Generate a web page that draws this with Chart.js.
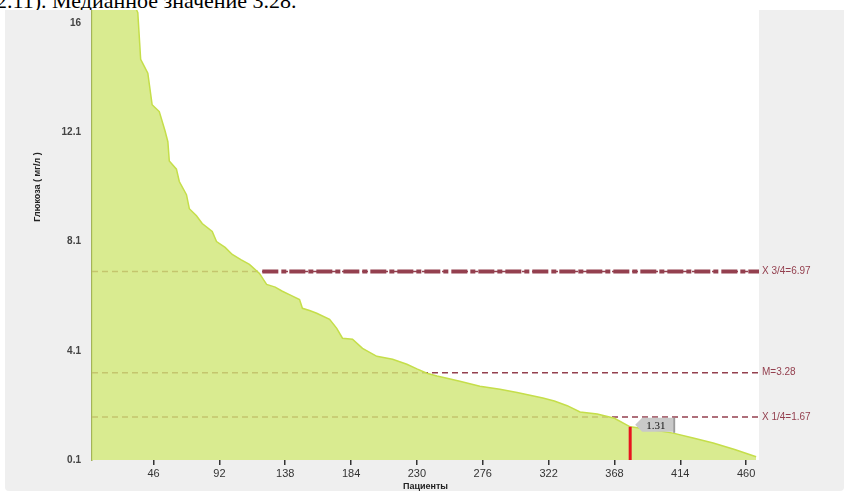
<!DOCTYPE html>
<html>
<head>
<meta charset="utf-8">
<script src="https://cdn.jsdelivr.net/npm/chart.js@4/dist/chart.umd.min.js"></script>
<style>
  html, body { margin: 0; padding: 0; background: #fff; width: 844px; height: 491px; overflow: hidden; }
  #doc { position: absolute; left: -4px; top: -11px; font: 22px/24px "Liberation Serif", serif; color: #000; white-space: nowrap; }
  #frame { position: absolute; left: 5px; top: 10px; width: 839px; height: 481px; background: #efefef; overflow: hidden; border-radius: 0 0 4px 4px; }
  #chart { position: absolute; left: 0; top: -113px; }
</style>
</head>
<body>
<div id="doc">2.11). Медианное значение 3.28.</div>
<div id="frame"><canvas id="chart" width="839" height="595"></canvas></div>
<script>
// sorted values (patient number -> level)
const patientNo = [1, 8, 16, 24, 30, 35, 37, 39, 42, 45, 47, 50, 54, 56, 57, 62, 64, 69, 71, 76,
  80, 87, 90, 96, 101, 107, 113, 120, 125, 131, 136, 142, 148, 150, 155, 160, 169, 174, 178, 185,
  192, 202, 213, 223, 230, 237, 244, 251, 260, 274, 288, 300, 309, 318, 326, 335, 344, 356, 368, 379,
  392, 409, 423, 437, 452, 467];
const levels = [19.8, 19.2, 18.4, 17.6, 17.0, 16.4, 14.7, 14.5, 14.2, 13.05, 12.95, 12.8, 12.1, 11.7, 11.0, 10.7, 10.25, 9.77, 9.26, 9.0,
  8.72, 8.43, 8.06, 7.85, 7.59, 7.4, 7.23, 6.9, 6.5, 6.4, 6.25, 6.1, 5.95, 5.63, 5.55, 5.45, 5.23, 4.9, 4.54, 4.5,
  4.17, 3.88, 3.77, 3.59, 3.42, 3.26, 3.16, 3.08, 2.97, 2.79, 2.68, 2.56, 2.46, 2.36, 2.25, 2.08, 1.85, 1.78, 1.62, 1.31,
  1.22, 1.08, 0.9, 0.72, 0.48, 0.22];

// quartile lines
const quartLabels = ['X 3/4=6.97', 'M=3.28', 'X 1/4=1.67'];
const quartValues = [6.97, 3.28, 1.67];
const q3Start = 122; // where the heavy Q3 line leaves the curve

// highlighted patient
const markNo = 379;
const markValue = 1.31;

const xTicks = [46, 92, 138, 184, 230, 276, 322, 368, 414, 460];
const yTicks = [0.1, 4.08, 8.06, 12.04, 16.02];
const yTickLabels = ['0.1', '4.1', '8.1', '12.1', '16'];
const xMin = 3, xMax = 469, yMin = 0.1, yMax = 20;

const maroon = '#94404f';

const areaData = patientNo.map((n, i) => ({ x: n, y: levels[i] }));

const datasets = [{
  data: areaData,
  fill: 'start',
  backgroundColor: 'rgba(208,230,116,0.8)',
  borderColor: '#c5de4a',
  borderWidth: 1.5,
  pointRadius: 0,
  tension: 0,
  order: 2
}];

quartValues.forEach(q => {
  datasets.push({
    data: [{ x: xMin, y: q }, { x: xMax, y: q }],
    borderColor: maroon,
    borderWidth: 1.5,
    borderDash: [6, 4],
    pointRadius: 0,
    fill: false,
    order: 3
  });
});

datasets.push({
  data: [{ x: q3Start, y: quartValues[0] }, { x: xMax, y: quartValues[0] }],
  borderColor: maroon,
  borderWidth: 4,
  borderDash: [16, 3, 5, 3],
  pointRadius: 0,
  fill: false,
  order: 3
});

datasets.push({
  data: [{ x: markNo, y: yMin }, { x: markNo, y: markValue }],
  borderColor: '#e8141e',
  borderWidth: 3,
  pointRadius: 0,
  fill: false,
  order: 1
});

const extras = {
  id: 'extras',
  beforeDraw(chart) {
    const { ctx, chartArea: a } = chart;
    ctx.save();
    ctx.fillStyle = '#fff';
    ctx.fillRect(a.left, a.top, a.right - a.left, a.bottom - a.top);
    ctx.restore();
  },
  afterDatasetsDraw(chart) {
    const { ctx, chartArea: a, scales } = chart;
    ctx.save();
    ctx.font = '10px "Liberation Sans", sans-serif';
    ctx.fillStyle = maroon;
    ctx.textBaseline = 'middle';
    quartValues.forEach((q, i) => {
      ctx.fillText(quartLabels[i], a.right + 3, scales.y.getPixelForValue(q));
    });
    // callout for the marked patient
    const px = scales.x.getPixelForValue(markNo) + 5;
    const py = scales.y.getPixelForValue(markValue) - 2;
    ctx.fillStyle = '#c9c9c9';
    ctx.beginPath();
    ctx.moveTo(px, py);
    ctx.lineTo(px + 7, py - 7);
    ctx.lineTo(px + 38, py - 7);
    ctx.lineTo(px + 38, py + 7);
    ctx.lineTo(px + 7, py + 7);
    ctx.closePath();
    ctx.fill();
    ctx.fillStyle = '#9a9a9a';
    ctx.fillRect(px + 38, py - 7, 2, 15);
    ctx.fillStyle = '#111';
    ctx.font = '11px "Liberation Serif", serif';
    ctx.fillText(String(markValue), px + 11, py + 1);
    ctx.restore();
  }
};

new Chart(document.getElementById('chart'), {
  type: 'line',
  data: { datasets },
  options: {
    responsive: false,
    animation: false,
    layout: { padding: { left: 0, right: 85, top: 0, bottom: 0 } },
    plugins: { legend: { display: false }, tooltip: { enabled: false } },
    scales: {
      x: {
        type: 'linear',
        min: xMin,
        max: xMax,
        afterBuildTicks: s => { s.ticks = xTicks.map(v => ({ value: v })); },
        afterFit: s => { s.height = 32; },
        grid: { display: true, drawOnChartArea: false, drawTicks: true, tickLength: 5, color: '#333', lineWidth: 1.5 },
        border: { display: false },
        ticks: { color: '#333', padding: 2, maxRotation: 0, font: { size: 11, family: 'Liberation Sans' } },
        title: { display: true, text: 'Пациенты', color: '#222', padding: 0, font: { size: 9, weight: 'bold', family: 'Liberation Sans' } }
      },
      y: {
        type: 'linear',
        min: yMin,
        max: yMax,
        afterBuildTicks: s => { s.ticks = yTicks.map(v => ({ value: v })); },
        afterFit: s => { s.width = 87; },
        grid: { display: false, drawTicks: false },
        border: { display: true, color: '#a3b35a', width: 1.5 },
        ticks: {
          color: '#444',
          padding: 11,
          font: { size: 10, weight: 'bold', family: 'Liberation Sans' },
          callback: (v, i) => yTickLabels[i]
        },
        title: { display: true, text: 'Глюкоза ( мг/л )', color: '#222', padding: { top: 27, bottom: 0 }, font: { size: 9, weight: 'bold', family: 'Liberation Sans' } }
      }
    }
  },
  plugins: [extras]
});
</script>
</body>
</html>
